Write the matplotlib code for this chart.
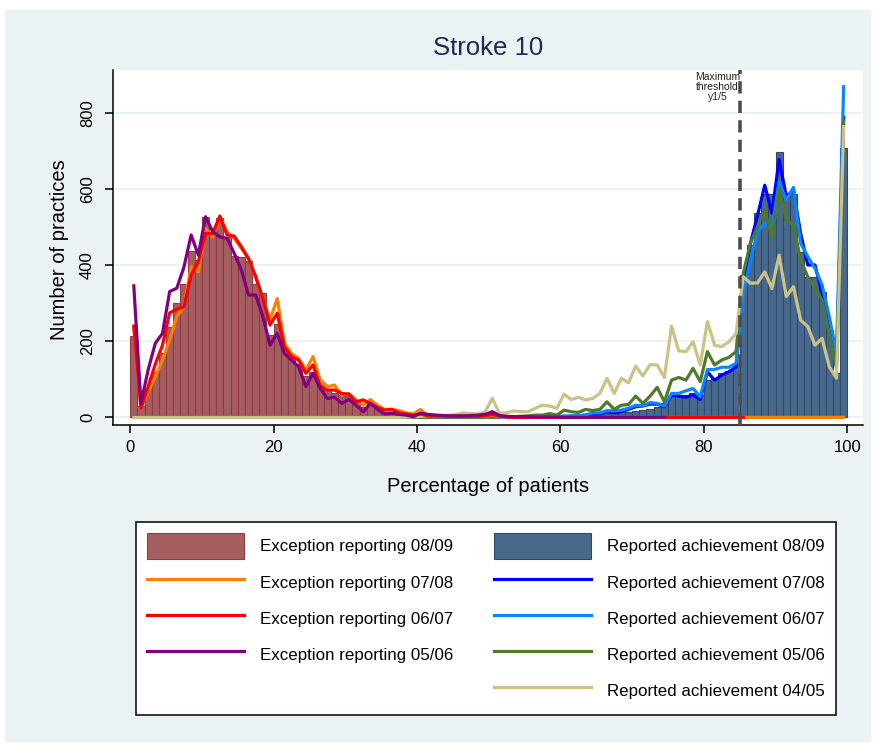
import numpy as np
import matplotlib.pyplot as plt
from matplotlib.lines import Line2D
from matplotlib.patches import Rectangle

plt.rcParams['font.family'] = ['Liberation Sans', 'DejaVu Sans']

# ==========================================================
# data: number of practices per 1% bin (0-1, 1-2, ... 99-100)
# ==========================================================
bin_left = np.arange(100)
bin_mid = bin_left + 0.5

exception_0809 = [214, 30, 75, 120, 170, 239, 302, 350, 438, 414,
                  528, 480, 524, 475, 425, 421, 412, 351, 326, 217,
                  246, 185, 155, 140, 110, 120, 92, 75, 65, 58,
                  55, 42, 28, 38, 24, 15, 13, 10, 8, 6,
                  9, 5, 4, 3, 3, 2, 2, 2, 2, 3,
                  10, 3, 2, 1, 1] + [0] * 45

achievement_0809 = [0] * 58 + [2, 3,
                    3, 4, 5, 6, 8, 9, 11, 12, 14, 15,
                    17, 19, 22, 28, 37, 56, 59, 60, 63, 59,
                    98, 103, 116, 123, 142, 375, 454, 539, 589, 589,
                    699, 590, 587, 436, 370, 370, 330, 230, 116, 710]

# exception reporting, earlier years (frequency polygons)
exception_0708 = [238, 24, 68, 107, 151, 204, 265, 291, 396, 383,
                  497, 475, 528, 489, 471, 445, 418, 370, 313, 256,
                  313, 195, 168, 155, 125, 160, 98, 81, 85, 59,
                  63, 46, 32, 47, 32, 21, 21, 18, 12, 9,
                  21, 4, 6, 4, 3, 3, 4, 5, 4, 3,
                  6, 2, 1] + [0] * 47
exception_0607 = [240, 24, 81, 140, 190, 275, 285, 291, 375, 410,
                  484, 484, 530, 480, 477, 449, 418, 370, 313, 243,
                  274, 186, 160, 151, 116, 138, 81, 72, 72, 63,
                  61, 41, 46, 37, 26, 19, 21, 12, 9, 6,
                  9, 4, 5, 4, 3, 3, 3, 3, 3, 4,
                  8, 3, 1] + [0] * 33
exception_0506 = [346, 37, 125, 195, 221, 331, 340, 396, 480, 427,
                  528, 489, 475, 471, 432, 388, 322, 322, 265, 190,
                  221, 168, 151, 133, 81, 116, 76, 50, 53, 37,
                  47, 32, 15, 37, 21, 9, 11, 8, 6, 2,
                  11, 8, 6, 5, 4, 4, 4, 5, 6, 8,
                  15, 5, 3, 2, 2, 2, 1, 1, 1, 1] + [0] * 15

# reported achievement, earlier years
achievement_0708 = [0] * 56 + [1, 2, 2, 2,
                    3, 3, 4, 6, 6, 8, 15, 12, 15, 21,
                    28, 30, 35, 35, 28, 59, 56, 53, 59, 47,
                    120, 98, 111, 120, 133, 344, 458, 532, 611, 537,
                    679, 581, 598, 484, 401, 401, 326, 239, 142, 790]
achievement_0607 = [0] * 56 + [1, 1, 2, 3,
                    3, 4, 5, 6, 12, 12, 18, 17, 19, 24,
                    32, 30, 39, 37, 30, 63, 63, 70, 76, 54,
                    126, 126, 132, 132, 142, 326, 414, 489, 511, 497,
                    620, 572, 605, 458, 423, 392, 348, 265, 168, 870]
achievement_0506 = [0] * 50 + [1, 1, 2, 2, 3, 4,
                    6, 6, 10, 6, 19, 15, 13, 21, 18, 21,
                    41, 21, 32, 34, 56, 37, 56, 79, 41, 98,
                    105, 98, 129, 94, 173, 138, 151, 158, 173, 379,
                    458, 502, 546, 471, 603, 519, 506, 414, 370, 339,
                    309, 221, 129, 778]
achievement_0405 = [0] * 38 + [1, 2,
                    3, 4, 5, 5, 6, 8, 12, 10, 9, 15,
                    50, 11, 12, 17, 15, 15, 24, 32, 30, 24,
                    61, 47, 53, 46, 50, 63, 103, 63, 103, 91,
                    135, 109, 139, 138, 105, 240, 175, 173, 199, 138,
                    252, 190, 186, 199, 221, 370, 353, 354, 383, 339,
                    427, 318, 344, 256, 239, 190, 208, 133, 103, 765]

threshold = 85

# ==========================================================
# figure
# ==========================================================
fig = plt.figure(figsize=(8.77, 7.44), dpi=100, facecolor='white')
fig.patches.append(Rectangle((5 / 877, 2 / 744), 866 / 877, 732 / 744,
                             transform=fig.transFigure, facecolor='#EAF2F3',
                             edgecolor='none', zorder=-10))

ax = fig.add_axes([113 / 877, 319 / 744, 750 / 877, 355 / 744])
ax.set_facecolor('white')

# histograms for 08/09
bars_exc = ax.bar(bin_left, exception_0809, width=1, align='edge',
                  color='#A55D60', edgecolor='#8E3D46', linewidth=0.8,
                  label='Exception reporting 08/09', zorder=2)
bars_ach = ax.bar(bin_left, achievement_0809, width=1, align='edge',
                  color='#48698B', edgecolor='#2B4A6C', linewidth=0.8,
                  label='Reported achievement 08/09', zorder=2)

lw = 2.3
ach_lines = []
for vals, col, lab in [(achievement_0708, '#0000FF', 'Reported achievement 07/08'),
                       (achievement_0607, '#0A86FF', 'Reported achievement 06/07'),
                       (achievement_0506, '#4F7A2B', 'Reported achievement 05/06'),
                       (achievement_0405, '#CBC288', 'Reported achievement 04/05')]:
    ln, = ax.plot(bin_mid[:len(vals)], vals, color=col, lw=lw, label=lab, zorder=3)
    ach_lines.append(ln)

exc_lines = []
for vals, col, lab in [(exception_0708, '#FF8000', 'Exception reporting 07/08'),
                       (exception_0607, '#FF0000', 'Exception reporting 06/07'),
                       (exception_0506, '#800080', 'Exception reporting 05/06')]:
    ln, = ax.plot(bin_mid[:len(vals)], vals, color=col, lw=lw, label=lab, zorder=4)
    exc_lines.append(ln)

# maximum threshold marker
ax.axvline(threshold, color='#4D4D4D', lw=2.6, dashes=(3.4, 2.0), zorder=5)
ax.text(81.9, 910, 'Maximum\nthreshold\ny1/5', ha='center', va='top',
        fontsize=7.5, linespacing=1.05, color='#222222', zorder=6)

# axes styling
ax.set_xlim(-2.4, 102.2)
ax.set_ylim(-20, 914)
ax.set_xticks([0, 20, 40, 60, 80, 100])
ax.set_yticks([0, 200, 400, 600, 800])
ax.grid(True, axis='y', color='#EAF2F3', lw=1.6, zorder=0)
ax.set_axisbelow(True)
for s in ['top', 'right']:
    ax.spines[s].set_visible(False)
for s in ['left', 'bottom']:
    ax.spines[s].set_linewidth(1.1)
ax.tick_params(axis='both', direction='out', length=6, width=1.1, labelsize=12)
ax.tick_params(axis='y', pad=7)
ax.tick_params(axis='x', pad=5)
for lab in ax.get_yticklabels():
    lab.set_rotation(90)
    lab.set_va('center')

ax.set_xlabel('Percentage of patients', fontsize=14.5)
ax.xaxis.label.set_va('center')
ax.xaxis.set_label_coords(0.5, -0.1746)
ax.set_ylabel('Number of practices', fontsize=14.5)
ax.yaxis.label.set_va('center')
ax.yaxis.set_label_coords(-0.0707, 0.493)

fig.text(488 / 877, 1 - 48 / 744, 'Stroke 10', ha='center', va='center',
         fontsize=18.5, color='#1C2A55')

# legend: left column exception reporting, right column achievement
blank = Line2D([], [], color='none', label=' ')
handles = [bars_exc] + exc_lines + [blank, bars_ach] + ach_lines
labels = [h.get_label() for h in handles]
leg = fig.legend(handles, labels, ncol=2, loc='center',
                 bbox_to_anchor=(486 / 877, 1 - 618.5 / 744),
                 fontsize=12.2, frameon=True, fancybox=False, framealpha=1,
                 edgecolor='black', facecolor='white',
                 handlelength=5.74, handleheight=1.9, handletextpad=0.95,
                 columnspacing=2.4, labelspacing=0.66, borderpad=0.65)
leg.get_frame().set_linewidth(1.1)

plt.savefig('out.png', dpi=100, facecolor=fig.get_facecolor())
plt.close(fig)
